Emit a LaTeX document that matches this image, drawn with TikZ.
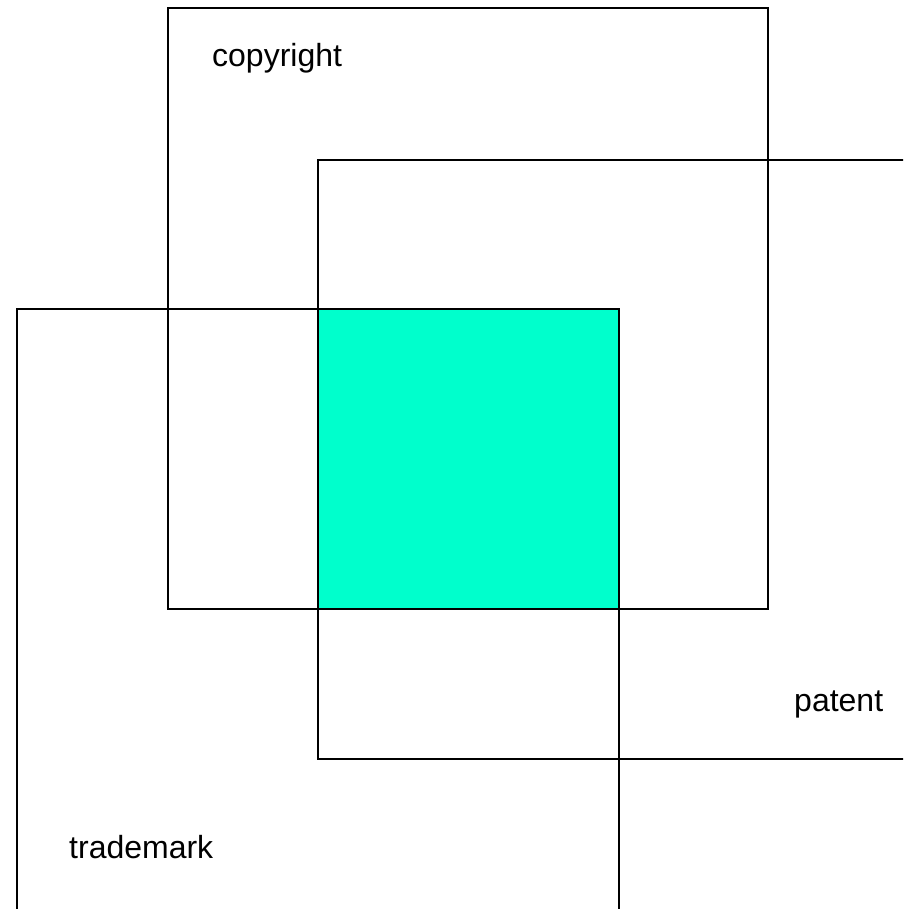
\documentclass[tikz,border=0pt]{standalone}
\usepackage{fontspec}
\setmainfont{Liberation Sans}
\definecolor{aqua}{HTML}{00FFCC}
\begin{document}
\begin{tikzpicture}[x=1pt,y=-1pt,
  sq/.style={draw=black,line width=2.4pt},
  lbl/.style={anchor=base west,inner sep=0pt,font=\fontsize{32}{38}\selectfont}]
\useasboundingbox (0,0) rectangle (903,909);
\clip (0,0) rectangle (903,909);
\fill[aqua] (318,309) rectangle (619,609);
\draw[sq] (168,8) rectangle (768,609);
\draw[sq] (318,160) rectangle (1000,759);
\draw[sq] (17,309) rectangle (619,1000);
\node[lbl] (tcr) at (212,67) {copyright};
\node[lbl] (tpa) at (794,711) {patent};
\node[lbl] (ttm) at (69,858) {trademark};
\end{tikzpicture}
\end{document}
